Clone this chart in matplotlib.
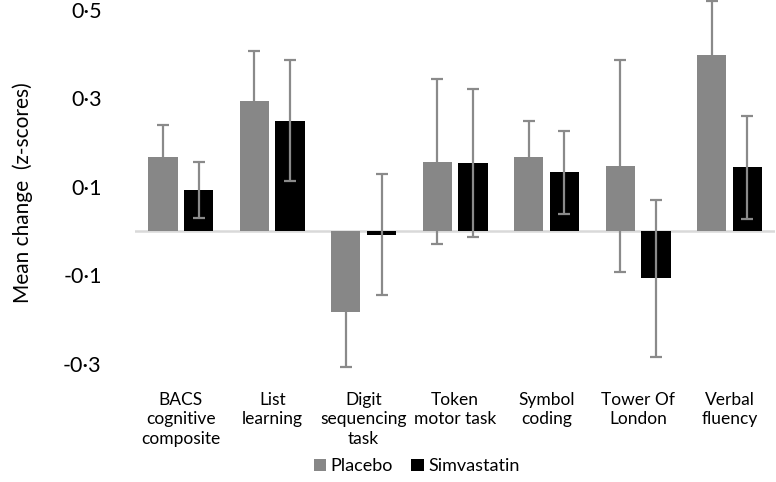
import numpy as np
import matplotlib
matplotlib.use("Agg")
import matplotlib.pyplot as plt

plt.rcParams['font.family'] = ['Lato', 'DejaVu Sans']

categories = ["BACS\ncognitive\ncomposite", "List\nlearning", "Digit\nsequencing\ntask",
              "Token\nmotor task", "Symbol\ncoding", "Tower Of\nLondon", "Verbal\nfluency"]
placebo = [0.167, 0.294, -0.182, 0.157, 0.167, 0.147, 0.398]
placebo_err = [0.072, 0.113, 0.124, 0.186, 0.082, 0.240, 0.122]
simva = [0.092, 0.249, -0.008, 0.154, 0.133, -0.107, 0.144]
simva_err = [0.063, 0.137, 0.137, 0.168, 0.094, 0.178, 0.116]

yticks = [-0.3, -0.1, 0.1, 0.3, 0.5]
ytick_labels = ["-0·3", "-0·1", "0·1", "0·3", "0·5"]

PLACEBO_COL = "#878787"
SIMVA_COL = "#000000"
ERR_COL = "#8a8a8a"


def main():
    fig = plt.figure(figsize=(7.76, 4.82), dpi=100)
    ax = fig.add_axes([0.174, 0.201, 0.825, 0.799])

    x = np.arange(len(categories))
    w = 0.32
    off = 0.195

    # placebo error bars sit behind the grey bars, simvastatin ones on top
    ax.errorbar(x - off, placebo, yerr=placebo_err, fmt="none", ecolor=ERR_COL,
                elinewidth=1.6, capsize=4.5, capthick=1.6, zorder=1.5)
    ax.bar(x - off, placebo, w, color=PLACEBO_COL, label="Placebo", zorder=2)
    ax.bar(x + off, simva, w, color=SIMVA_COL, label="Simvastatin", zorder=2)
    ax.errorbar(x + off, simva, yerr=simva_err, fmt="none", ecolor=ERR_COL,
                elinewidth=1.6, capsize=4.5, capthick=1.6, zorder=3)

    ax.axhline(0, color="#d9d9d9", linewidth=1.8, zorder=1)

    ax.set_xlim(-0.5, len(categories) - 0.5)
    ax.set_ylim(-0.348, 0.522)
    ax.set_yticks(yticks)
    ax.set_yticklabels(ytick_labels, fontsize=15.5)
    ax.set_xticks(x)
    ax.set_xticklabels(categories, fontsize=12.5, linespacing=1.25, va="top")
    ax.tick_params(axis="x", length=0, pad=5)
    ax.tick_params(axis="y", length=0, pad=24)
    for s in ax.spines.values():
        s.set_visible(False)

    ax.set_ylabel("Mean change  (z-scores)", fontsize=15, labelpad=22)

    fig.legend(loc="lower center", bbox_to_anchor=(0.537, -0.018), ncol=2,
               frameon=False, fontsize=13, handlelength=0.7, handleheight=0.7,
               handletextpad=0.25, columnspacing=1.0)

    fig.savefig("out.png", dpi=100)
    plt.close(fig)


if __name__ == "__main__":
    main()
